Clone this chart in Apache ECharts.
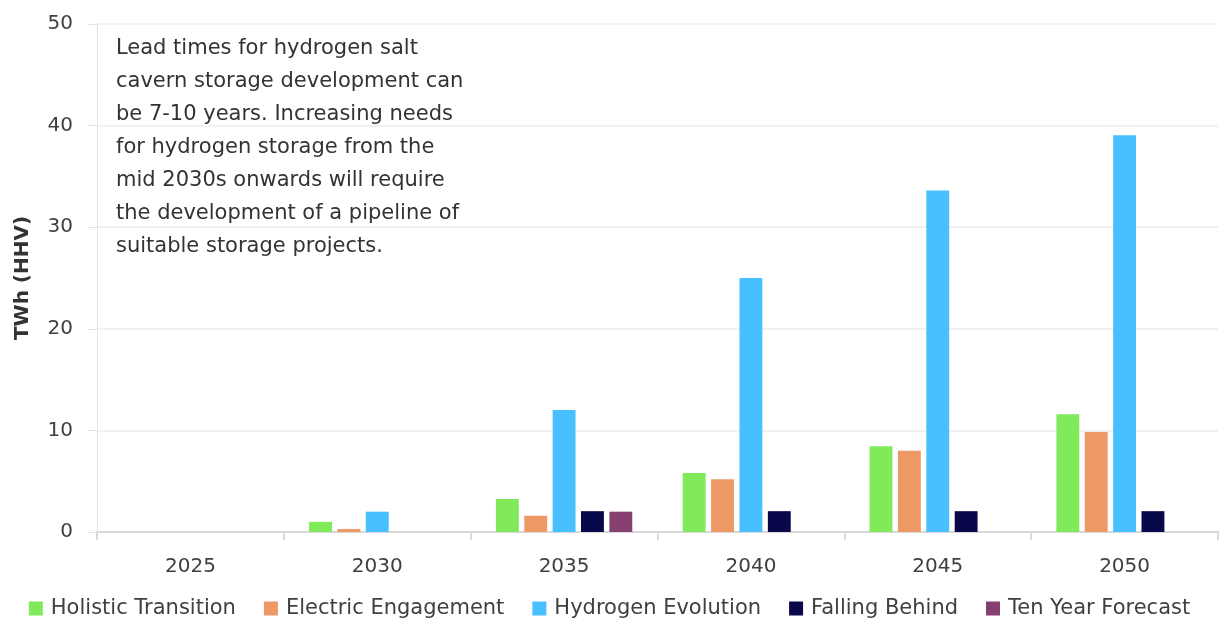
<!DOCTYPE html>
<html>
<head>
<meta charset="utf-8">
<script src="https://cdn.jsdelivr.net/npm/echarts@6/dist/echarts.min.js"></script>
<style>
  html, body { margin: 0; padding: 0; background: #fff; }
  #chart { width: 1219px; height: 620px; }
</style>
</head>
<body>
<div id="chart"></div>
<script>
const years = ["2025", "2030", "2035", "2040", "2045", "2050"];
const holistic = [null, 1.0, 3.25, 5.8, 8.45, 11.6];
const electric = [null, 0.3, 1.6, 5.2, 8.0, 9.85];
const hydrogen = [null, 2.0, 12.0, 25.0, 33.6, 39.05];
const fallingBehind = [null, null, 2.05, 2.05, 2.05, 2.05];
const tenYear = [null, null, 2.0, null, null, null];

const note = [
  "Lead times for hydrogen salt",
  "cavern storage development can",
  "be 7-10 years. Increasing needs",
  "for hydrogen storage from the",
  "mid 2030s onwards will require",
  "the development of a pipeline of",
  "suitable storage projects."
];

const font = "'DejaVu Sans', sans-serif";
const chart = echarts.init(document.getElementById("chart"));

function bar(name, data, color) {
  return {
    name: name,
    type: "bar",
    data: data,
    barGap: "24%",
    barCategoryGap: "27%",
    itemStyle: { color: color }
  };
}

chart.setOption({
  animation: false,
  textStyle: { fontFamily: font },
  grid: { left: 97, right: 1, top: 24, bottom: 88, containLabel: false },
  xAxis: {
    type: "category",
    data: years,
    axisLine: { lineStyle: { color: "#d9d9d9", width: 2 } },
    axisTick: { show: true, length: 8, lineStyle: { color: "#d9d9d9", width: 2 } },
    axisLabel: { color: "#404040", fontSize: 20, margin: 25, fontFamily: font }
  },
  yAxis: {
    type: "value",
    min: 0,
    max: 50,
    interval: 10,
    name: "TWh (HHV)",
    nameLocation: "middle",
    nameGap: 64,
    nameTextStyle: { fontSize: 20, fontWeight: "bold", color: "#333", fontFamily: font },
    axisLine: { show: true, lineStyle: { color: "#e3e3e3", width: 1 } },
    axisTick: { show: true, length: 9, lineStyle: { color: "#e3e3e3" } },
    splitLine: { lineStyle: { color: "#ececec", width: 1.5 } },
    axisLabel: { color: "#404040", fontSize: 20, margin: 24, fontFamily: font }
  },
  legend: {
    top: 593,
    left: "center",
    itemWidth: 14,
    itemHeight: 14,
    itemGap: 28,
    icon: "rect",
    textStyle: { fontSize: 21, color: "#404040", fontFamily: font, padding: [0, 0, 0, 3] }
  },
  graphic: [{
    type: "text",
    left: 116,
    top: 32,
    style: {
      text: note.join("\n"),
      fontSize: 21,
      lineHeight: 33,
      fill: "#333",
      fontFamily: font
    }
  }],
  series: [
    bar("Holistic Transition", holistic, "#80ea5a"),
    bar("Electric Engagement", electric, "#ee9865"),
    bar("Hydrogen Evolution", hydrogen, "#48bffe"),
    bar("Falling Behind", fallingBehind, "#08084a"),
    bar("Ten Year Forecast", tenYear, "#853f71")
  ]
});
</script>
</body>
</html>
